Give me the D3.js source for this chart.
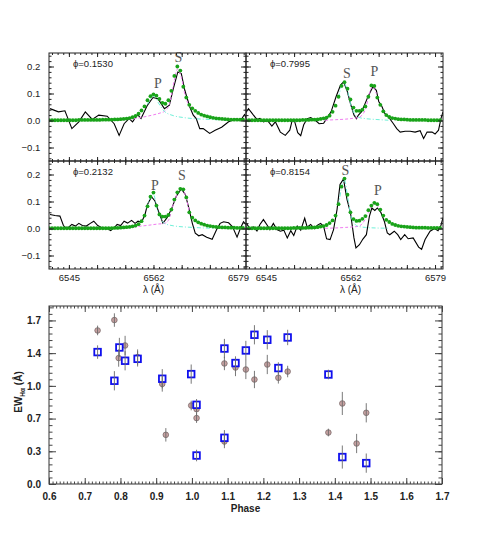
<!DOCTYPE html>
<html>
<head>
<meta charset="utf-8">
<script src="https://cdn.jsdelivr.net/npm/d3@7"></script>
<style>
  body { margin: 0; background: #fff; }
  text { font-family: "Liberation Sans", Arial, sans-serif; }
</style>
</head>
<body>
<div id="chart"></div>
<script>
// ---- spectra panels: wavelength grid of the fitted model (0.6 A step)
const fitLambda = d3.range(66).map(i => 6541 + 0.6 * i);

// fitted model (green dots), one array per phase
const fit1530 = [0.001,0.001,0.001,0.001,0.001,0.001,0.001,0.001,0.001,0.001,0.002,0.002,0.002,0.002,0.002,0.002,0.002,0.002,0.003,0.003,0.003,0.003,0.004,0.004,0.005,0.006,0.007,0.009,0.012,0.017,0.025,0.037,0.052,0.075,0.090,0.097,0.092,0.080,0.065,0.062,0.075,0.110,0.165,0.200,0.185,0.125,0.085,0.058,0.045,0.036,0.028,0.022,0.018,0.015,0.012,0.010,0.008,0.007,0.006,0.005,0.004,0.003,0.003,0.003,0.003,0.003];
const fit7995 = [0.001,0.001,0.001,0.001,0.001,0.001,0.001,0.001,0.001,0.001,0.001,0.001,0.001,0.001,0.001,0.001,0.001,0.001,0.001,0.002,0.002,0.002,0.003,0.003,0.004,0.006,0.008,0.011,0.018,0.032,0.055,0.088,0.128,0.142,0.118,0.078,0.048,0.036,0.036,0.040,0.052,0.088,0.130,0.128,0.085,0.058,0.034,0.020,0.013,0.009,0.007,0.005,0.004,0.004,0.003,0.002,0.002,0.002,0.002,0.002,0.002,0.001,0.001,0.001,0.001,0.001];
const fit2132 = [0.001,0.001,0.001,0.001,0.001,0.001,0.001,0.001,0.001,0.001,0.001,0.001,0.001,0.001,0.001,0.001,0.001,0.001,0.001,0.001,0.001,0.001,0.002,0.002,0.003,0.004,0.005,0.006,0.008,0.011,0.016,0.027,0.048,0.082,0.118,0.133,0.085,0.052,0.044,0.044,0.050,0.070,0.107,0.134,0.147,0.145,0.115,0.060,0.040,0.030,0.023,0.018,0.014,0.011,0.009,0.007,0.006,0.005,0.004,0.004,0.003,0.003,0.003,0.002,0.002,0.002];
const fit8154 = [0.001,0.001,0.001,0.001,0.001,0.001,0.001,0.001,0.001,0.001,0.001,0.001,0.001,0.001,0.001,0.001,0.002,0.002,0.002,0.002,0.002,0.003,0.003,0.004,0.005,0.007,0.009,0.013,0.020,0.030,0.048,0.090,0.155,0.185,0.125,0.060,0.035,0.028,0.029,0.036,0.046,0.068,0.085,0.095,0.090,0.070,0.048,0.032,0.024,0.017,0.013,0.010,0.008,0.007,0.006,0.005,0.004,0.003,0.003,0.003,0.003,0.002,0.002,0.002,0.002,0.002];

// observed spectra (black), [lambda, flux]
const spec1530 = [[6541.2,0.044],[6542.9,0.032],[6544.2,0.036],[6545.6,-0.030],[6547.0,-0.005],[6548.3,0.032],[6549.7,0.004],[6551.0,0.020],[6552.7,0.016],[6554.1,-0.012],[6555.1,-0.055],[6556.1,-0.012],[6557.1,0.007],[6557.8,-0.005],[6558.8,0.022],[6559.5,0.007],[6560.8,0.057],[6561.9,0.085],[6562.9,0.081],[6564.2,0.044],[6565.2,0.057],[6565.9,0.112],[6566.9,0.180],[6567.6,0.174],[6568.3,0.112],[6569.3,0.050],[6570.0,0.020],[6570.6,0.007],[6571.3,-0.030],[6572.0,-0.030],[6573.3,-0.048],[6574.4,-0.036],[6575.7,-0.025],[6577.1,-0.005],[6578.4,0.005],[6579.5,0.000],[6580.3,0.022],[6580.6,0.010]];
const spec7995 = [[6541.0,0.030],[6541.5,0.044],[6542.5,0.020],[6543.2,0.004],[6543.8,0.008],[6544.5,-0.005],[6545.3,0.000],[6546.2,-0.021],[6546.9,-0.005],[6547.9,-0.043],[6548.9,-0.055],[6549.8,-0.036],[6550.3,0.001],[6550.8,-0.005],[6551.4,-0.045],[6552.0,-0.056],[6552.6,-0.016],[6553.3,0.007],[6554.0,0.011],[6555.0,0.000],[6555.7,-0.012],[6556.6,-0.010],[6557.2,0.007],[6558.1,0.032],[6559.1,0.088],[6560.0,0.131],[6560.6,0.143],[6561.3,0.112],[6562.0,0.063],[6562.7,0.020],[6563.2,0.007],[6563.6,0.020],[6564.2,0.032],[6564.8,0.057],[6565.5,0.087],[6566.5,0.125],[6567.2,0.112],[6567.7,0.069],[6568.2,0.057],[6568.9,0.026],[6569.6,0.014],[6570.6,-0.011],[6571.3,-0.030],[6572.0,-0.043],[6573.0,-0.040],[6574.0,-0.040],[6575.0,-0.043],[6576.0,-0.038],[6576.7,-0.067],[6577.4,-0.043],[6578.4,-0.043],[6579.0,-0.050],[6579.7,-0.036],[6580.2,0.008],[6580.6,0.032]];
const spec2132 = [[6541.2,0.052],[6542.2,0.048],[6543.2,0.046],[6543.9,0.011],[6544.6,-0.001],[6545.6,0.015],[6546.3,0.009],[6547.0,0.019],[6547.7,0.011],[6548.5,0.009],[6549.3,0.019],[6550.0,0.027],[6550.8,0.011],[6551.7,0.002],[6552.7,0.000],[6553.4,-0.008],[6554.1,0.002],[6554.7,0.015],[6555.4,0.011],[6556.1,0.027],[6556.8,0.020],[6557.6,0.030],[6558.3,0.019],[6558.9,0.027],[6559.6,0.023],[6560.3,0.052],[6560.8,0.089],[6561.6,0.118],[6562.3,0.102],[6563.0,0.064],[6563.9,0.020],[6564.7,0.039],[6565.6,0.071],[6566.6,0.120],[6567.6,0.147],[6568.4,0.126],[6569.1,0.076],[6569.8,0.020],[6570.4,-0.017],[6571.1,-0.027],[6571.8,-0.023],[6572.7,-0.032],[6573.8,-0.040],[6574.7,-0.004],[6575.4,0.019],[6576.1,0.025],[6577.1,0.021],[6577.9,0.006],[6578.8,-0.032],[6579.5,0.002],[6580.1,0.025],[6580.6,0.015]];
const spec8154 = [[6541.1,0.019],[6541.8,-0.001],[6542.5,0.006],[6543.2,-0.009],[6543.8,0.015],[6544.5,0.033],[6545.3,0.011],[6545.8,-0.004],[6546.5,0.019],[6547.2,-0.004],[6547.9,-0.010],[6548.6,-0.006],[6549.3,-0.035],[6550.0,-0.008],[6550.6,-0.026],[6551.3,0.009],[6552.0,-0.006],[6552.8,0.038],[6553.3,0.005],[6554.0,0.015],[6554.8,-0.001],[6555.3,0.011],[6556.0,0.019],[6556.6,0.008],[6557.2,-0.038],[6557.9,-0.041],[6558.6,-0.004],[6559.3,0.070],[6559.9,0.163],[6560.6,0.183],[6561.3,0.108],[6562.0,0.058],[6562.7,-0.035],[6563.1,-0.072],[6563.8,-0.060],[6564.5,-0.039],[6565.2,-0.023],[6565.8,0.045],[6566.3,0.076],[6566.9,0.067],[6567.4,0.076],[6568.1,0.060],[6568.8,0.027],[6569.4,-0.016],[6569.9,-0.023],[6570.8,-0.010],[6571.5,-0.023],[6572.1,-0.041],[6572.9,-0.023],[6573.6,-0.038],[6574.6,-0.035],[6575.7,-0.069],[6576.3,-0.077],[6577.0,-0.041],[6578.0,-0.010],[6578.9,0.000],[6579.6,-0.008],[6580.2,0.012],[6580.6,0.040]];

// single components of the fit: left-hand peak (cyan) and right-hand peak (magenta)
const compL1530 = [[6560.8,0.060],[6561.6,0.085],[6562.2,0.090],[6563.0,0.065],[6564.2,0.034],[6566.0,0.018],[6568.0,0.011],[6570.0,0.007],[6572.0,0.005],[6574.5,0.003],[6577.0,0.002]];
const compR1530 = [[6555.0,0.002],[6557.0,0.004],[6558.6,0.008],[6560.0,0.013],[6562.0,0.021],[6563.4,0.028],[6564.2,0.034],[6565.2,0.060],[6566.2,0.150],[6566.8,0.190],[6567.6,0.160],[6568.4,0.090],[6569.4,0.050]];
const compL7995 = [[6559.6,0.085],[6560.6,0.140],[6561.4,0.110],[6562.2,0.050],[6563.0,0.020],[6563.6,0.012],[6565.0,0.007],[6567.0,0.004],[6569.6,0.001]];
const compR7995 = [[6556.9,0.001],[6559.0,0.003],[6561.0,0.005],[6562.5,0.008],[6563.6,0.011],[6565.0,0.040],[6565.8,0.100],[6566.4,0.125],[6567.2,0.100]];
const compL2132 = [[6560.6,0.075],[6561.4,0.115],[6562.0,0.128],[6562.6,0.080],[6563.4,0.040],[6564.2,0.019],[6566.0,0.010],[6568.0,0.006],[6570.0,0.004],[6572.0,0.002],[6574.3,0.001]];
const compR2132 = [[6556.0,0.002],[6557.6,0.004],[6559.1,0.008],[6561.0,0.012],[6562.6,0.016],[6564.2,0.019],[6565.0,0.030],[6566.0,0.090],[6566.8,0.128],[6567.6,0.145],[6568.4,0.125],[6569.2,0.060]];
const compL8154 = [[6559.6,0.085],[6560.2,0.150],[6560.8,0.180],[6561.4,0.120],[6562.2,0.040],[6563.0,0.014],[6563.6,0.008],[6565.0,0.004],[6567.0,0.002],[6569.6,0.001]];
const compR8154 = [[6556.9,0.001],[6559.0,0.002],[6561.0,0.004],[6562.5,0.006],[6563.6,0.008],[6565.0,0.035],[6566.0,0.075],[6566.8,0.090],[6567.6,0.080]];

// panel labels: phase, and P / S marks [text, lambda, flux]
const panelPhase = ["0.1530", "0.7995", "0.2132", "0.8154"];
const marks1530 = [["P", 6562.9, 0.120], ["S", 6567.0, 0.216]];
const marks7995 = [["S", 6561.3, 0.158], ["P", 6566.8, 0.165]];
const marks2132 = [["P", 6562.3, 0.144], ["S", 6567.7, 0.181]];
const marks8154 = [["S", 6561.0, 0.197], ["P", 6567.5, 0.123]];

// ---- EW(Halpha) vs phase
const phaseCirc = [0.736,0.783,0.795,0.813,0.848,0.917,0.927,0.998,1.013,1.013,1.091,1.091,1.122,1.151,1.175,1.211,1.242,1.268,1.382,1.421,1.461,1.488];
const ewCirc    = [1.596,1.704,1.309,1.440,1.319,1.040,0.511,0.816,0.778,0.685,1.253,0.442,1.211,1.190,1.086,1.242,1.104,1.169,0.535,0.837,0.421,0.740];
const errCirc   = [0.05,0.07,0.09,0.10,0.08,0.08,0.07,0.05,0.06,0.05,0.07,0.07,0.09,0.10,0.09,0.10,0.06,0.06,0.04,0.12,0.10,0.10];
const phaseSq = [0.736,0.783,0.797,0.813,0.848,0.917,0.998,1.013,1.013,1.091,1.091,1.122,1.151,1.175,1.211,1.242,1.268,1.382,1.421,1.488];
const ewSq    = [1.371,1.073,1.419,1.281,1.301,1.094,1.142,0.823,0.296,1.408,0.480,1.257,1.388,1.551,1.499,1.205,1.523,1.138,0.280,0.217];
const errSq   = [0.07,0.10,0.10,0.10,0.08,0.10,0.10,0.06,0.06,0.10,0.08,0.07,0.10,0.10,0.10,0.06,0.08,0.05,0.12,0.10];
const ewTicks = [0, 0.34, 0.68, 1.02, 1.36, 1.70];
const ewTickLabels = ["0.0", "0.3", "0.7", "1.0", "1.4", "1.7"];

const W = 491, H = 540;
const svg = d3.select("#chart").append("svg").attr("width", W).attr("height", H);

const pw = 197, ph = 108;
const lamDomain = [6541, 6580.6];
const fluxDomain = [-0.15, 0.25];

const panels = [
  {left: 49,  top: 53,  fit: fit1530, spec: spec1530, cl: compL1530, cr: compR1530, marks: marks1530, phase: panelPhase[0], ylab: true,  xlab: false},
  {left: 246, top: 53,  fit: fit7995, spec: spec7995, cl: compL7995, cr: compR7995, marks: marks7995, phase: panelPhase[1], ylab: false, xlab: false},
  {left: 49,  top: 161, fit: fit2132, spec: spec2132, cl: compL2132, cr: compR2132, marks: marks2132, phase: panelPhase[2], ylab: true,  xlab: true},
  {left: 246, top: 161, fit: fit8154, spec: spec8154, cl: compL8154, cr: compR8154, marks: marks8154, phase: panelPhase[3], ylab: false, xlab: true}
];

// evenly spaced tick values between a and b
function ticksBetween(a, b, step) {
  const n = Math.round((b - a) / step);
  return d3.range(n + 1).map(i => a + i * step);
}

panels.forEach((p, k) => {
  const g = svg.append("g").attr("transform", "translate(" + p.left + "," + p.top + ")");
  const x = d3.scaleLinear().domain(lamDomain).range([0, pw]);
  const y = d3.scaleLinear().domain(fluxDomain).range([ph, 0]);

  const clipId = "clip" + k;
  g.append("clipPath").attr("id", clipId).append("rect").attr("width", pw).attr("height", ph);
  const inner = g.append("g").attr("clip-path", "url(#" + clipId + ")");

  const line = d3.line().x(d => x(d[0])).y(d => y(d[1]));

  inner.append("path").datum(p.spec).attr("d", line)
    .attr("fill", "none").attr("stroke", "#000").attr("stroke-width", 1.1);

  inner.append("path").datum(p.cr).attr("d", line.curve(d3.curveMonotoneX))
    .attr("fill", "none").attr("stroke", "#f07cf0").attr("stroke-width", 1)
    .attr("stroke-dasharray", "3,2");
  inner.append("path").datum(p.cl).attr("d", line.curve(d3.curveMonotoneX))
    .attr("fill", "none").attr("stroke", "#6ff0d8").attr("stroke-width", 1)
    .attr("stroke-dasharray", "4,2,1,2");

  inner.selectAll("circle.fit").data(p.fit).enter().append("circle")
    .attr("class", "fit")
    .attr("cx", (d, i) => x(fitLambda[i]))
    .attr("cy", d => y(d))
    .attr("r", 1.9)
    .attr("fill", "#19a319");

  // P / S marks
  g.selectAll("text.mark").data(p.marks).enter().append("text")
    .attr("class", "mark")
    .attr("x", d => x(d[1])).attr("y", d => y(d[2]))
    .attr("text-anchor", "middle")
    .style("font-family", "'Liberation Serif', 'Times New Roman', serif")
    .style("font-size", "14px")
    .attr("fill", "#555")
    .text(d => d[0]);

  g.append("text").attr("x", 24).attr("y", 14)
    .style("font-size", "9.5px").attr("fill", "#222")
    .text("\u03d5=" + p.phase);

  // frame
  g.append("rect").attr("width", pw).attr("height", ph)
    .attr("fill", "none").attr("stroke", "#222").attr("stroke-width", 1);

  // x ticks, bottom and top, pointing inward
  const xMaj = ticksBetween(6545, 6579, 17 / 3);
  const xMin = ticksBetween(6545 - 17 / 15 * 3, 6580.5, 17 / 15);
  const xAxB = d3.axisBottom(x).tickValues(xMaj).tickSizeInner(-4).tickSizeOuter(0)
    .tickFormat(d => (p.xlab && [6545, 6562, 6579].some(v => Math.abs(v - d) < 0.01)) ? d3.format("d")(Math.round(d)) : "");
  const gB = g.append("g").attr("transform", "translate(0," + ph + ")").call(xAxB);
  g.append("g").attr("transform", "translate(0," + ph + ")")
    .call(d3.axisBottom(x).tickValues(xMin).tickSize(-2).tickFormat(""));
  g.append("g").call(d3.axisTop(x).tickValues(xMaj).tickSize(-4).tickFormat(""));
  g.append("g").call(d3.axisTop(x).tickValues(xMin).tickSize(-2).tickFormat(""));
  gB.selectAll("text").attr("dy", "0.95em").style("font-size", "9.5px").attr("fill", "#222");

  // y ticks, left and right
  const yMaj = [-0.1, 0, 0.1, 0.2];
  const yMin = ticksBetween(-0.14, 0.24, 0.02);
  const fmtY = d => (d < 0 ? "\u2212" : "") + Math.abs(d).toFixed(1);
  const gL = g.append("g").call(d3.axisLeft(y).tickValues(yMaj).tickSizeInner(-5).tickSizeOuter(0)
    .tickFormat(p.ylab ? fmtY : ""));
  gL.selectAll("text").attr("dx", "-0.6em").style("font-size", "9.5px").attr("fill", "#222");
  g.append("g").call(d3.axisLeft(y).tickValues(yMin).tickSize(-2.5).tickFormat(""));
  g.append("g").attr("transform", "translate(" + pw + ",0)")
    .call(d3.axisRight(y).tickValues(yMaj).tickSize(-5).tickFormat(""));
  g.append("g").attr("transform", "translate(" + pw + ",0)")
    .call(d3.axisRight(y).tickValues(yMin).tickSize(-2.5).tickFormat(""));

  g.selectAll(".domain").remove();
  g.selectAll(".tick line").attr("stroke", "#222");

  if (p.xlab) {
    g.append("text").attr("x", x(6562)).attr("y", ph + 24)
      .attr("text-anchor", "middle").style("font-size", "10px").attr("fill", "#222")
      .text("\u03bb (\u00c5)");
  }
});

// ---- bottom chart
const bx0 = 49, by0 = 306, bw = 393, bh = 178;
const bg = svg.append("g").attr("transform", "translate(" + bx0 + "," + by0 + ")");
const xP = d3.scaleLinear().domain([0.6, 1.7]).range([0, bw]);
const yE = d3.scaleLinear().domain([0, 1.85]).range([bh, 0]);

bg.append("rect").attr("width", bw).attr("height", bh)
  .attr("fill", "none").attr("stroke", "#333").attr("stroke-width", 1);

const phMaj = ticksBetween(0.6, 1.7, 0.1);
const phMin = ticksBetween(0.6, 1.7, 0.01);
const ewMin = ticksBetween(0, 1.836, 0.068);

const gxb = bg.append("g").attr("transform", "translate(0," + bh + ")")
  .call(d3.axisBottom(xP).tickValues(phMaj).tickSizeInner(-6).tickSizeOuter(0).tickFormat(d3.format(".1f")));
gxb.selectAll("text").attr("dy", "1.3em").style("font-size", "10px").style("font-weight", "bold").attr("fill", "#222");
bg.append("g").attr("transform", "translate(0," + bh + ")")
  .call(d3.axisBottom(xP).tickValues(phMin).tickSize(-2.5).tickFormat(""));
bg.append("g").call(d3.axisTop(xP).tickValues(phMaj).tickSize(-6).tickFormat(""));
bg.append("g").call(d3.axisTop(xP).tickValues(phMin).tickSize(-2.5).tickFormat(""));

const gyl = bg.append("g")
  .call(d3.axisLeft(yE).tickValues(ewTicks).tickSizeInner(-7).tickSizeOuter(0).tickFormat((d, i) => ewTickLabels[i]));
gyl.selectAll("text").attr("dx", "-0.5em").style("font-size", "10px").style("font-weight", "bold").attr("fill", "#222");
bg.append("g").call(d3.axisLeft(yE).tickValues(ewMin).tickSize(-3.5).tickFormat(""));
bg.append("g").attr("transform", "translate(" + bw + ",0)")
  .call(d3.axisRight(yE).tickValues(ewTicks).tickSize(-7).tickFormat(""));
bg.append("g").attr("transform", "translate(" + bw + ",0)")
  .call(d3.axisRight(yE).tickValues(ewMin).tickSize(-3.5).tickFormat(""));
bg.selectAll(".domain").remove();
bg.selectAll(".tick line").attr("stroke", "#444");

const circData = phaseCirc.map((ph, i) => ({ph: ph, ew: ewCirc[i], err: errCirc[i]}));
const sqData = phaseSq.map((ph, i) => ({ph: ph, ew: ewSq[i], err: errSq[i]}));

bg.selectAll("circle.ew").data(circData).enter().append("circle")
  .attr("class", "ew")
  .attr("cx", d => xP(d.ph)).attr("cy", d => yE(d.ew)).attr("r", 2.8)
  .attr("fill", "#c8a2a2").attr("stroke", "#7a6a6a").attr("stroke-width", 0.8);

bg.selectAll("rect.ew").data(sqData).enter().append("rect")
  .attr("class", "ew")
  .attr("x", d => xP(d.ph) - 3.3).attr("y", d => yE(d.ew) - 3.3)
  .attr("width", 6.6).attr("height", 6.6)
  .attr("fill", "#fff").attr("stroke", "#1010ee").attr("stroke-width", 1.8);

// error bars on top
bg.selectAll("line.errc").data(circData.concat(sqData)).enter().append("line")
  .attr("class", "errc")
  .attr("x1", d => xP(d.ph)).attr("x2", d => xP(d.ph))
  .attr("y1", d => yE(d.ew - d.err)).attr("y2", d => yE(d.ew + d.err))
  .attr("stroke", "#6a6a6a").attr("stroke-width", 0.9);

svg.append("text").attr("x", bx0 + bw / 2).attr("y", 512)
  .attr("text-anchor", "middle").style("font-size", "10px").style("font-weight", "bold")
  .attr("fill", "#222").text("Phase");

const yl = svg.append("text")
  .attr("transform", "translate(22," + (by0 + 86) + ") rotate(-90)")
  .attr("text-anchor", "middle").style("font-size", "10px").style("font-weight", "bold").attr("fill", "#222");
yl.append("tspan").text("EW");
yl.append("tspan").attr("dy", 3).style("font-size", "6.5px").text("H\u03b1");
yl.append("tspan").attr("dy", -3).text(" (\u00c5)");
</script>
</body>
</html>
